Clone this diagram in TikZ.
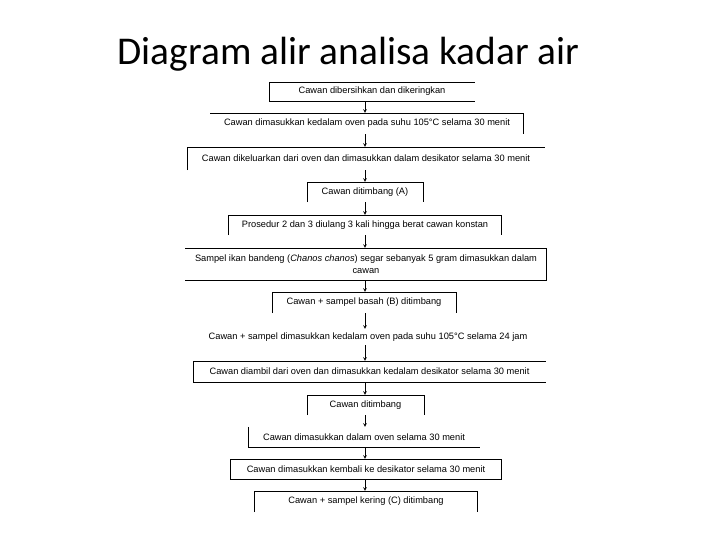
\documentclass[tikz,border=0pt]{standalone}
\usepackage{fontspec}
\setmainfont{Liberation Sans}
\newfontfamily\titlefont{Carlito}
\usetikzlibrary{positioning,arrows}

\begin{document}
\begin{tikzpicture}[x=1bp,y=-1bp,
                langkah/.style={inner sep=0pt,align=center,font=\fontsize{9.3}{12.5}\selectfont},
                garis/.style={line width=0.6pt},
                panah/.style={-stealth,line width=0.6pt},
            ]
                \useasboundingbox (0,0) rectangle (720,540);
                \node[anchor=base,font=\titlefont\fontsize{39.5}{44}\selectfont] (judul) at (348.5,65) {Diagram alir analisa kadar air};
                \coordinate (sumbu) at (365,0);

                \node[langkah,minimum width=206,minimum height=19] (b1) at (372,91.5) {Cawan dibersihkan dan dikeringkan};
                \node[langkah,minimum width=314,minimum height=21] (b2) at (367,123.5) {Cawan dimasukkan kedalam oven pada suhu 105°C selama 30 menit};
                \node[langkah,minimum width=358,minimum height=23] (b3) at (366,158.5) {Cawan dikeluarkan dari oven dan dimasukkan dalam desikator selama 30 menit};
                \node[langkah,minimum width=116,minimum height=20] (b4) at (365,192) {Cawan ditimbang (A)};
                \node[langkah,minimum width=274,minimum height=20] (b5) at (365,225) {Prosedur 2 dan 3 diulang 3 kali hingga berat cawan konstan};
                \node[langkah,minimum width=362,minimum height=32] (b6) at (366,264) {Sampel ikan bandeng (\textit{Chanos chanos}) segar sebanyak 5 gram dimasukkan dalam\\cawan};
                \node[langkah,minimum width=184,minimum height=21] (b7) at (364,302.5) {Cawan + sampel basah (B) ditimbang};
                \node[langkah,minimum width=314,minimum height=16] (b8) at (368,337) {Cawan + sampel dimasukkan kedalam oven pada suhu 105°C selama 24 jam};
                \node[langkah,minimum width=353,minimum height=21] (b9) at (369.5,371.5) {Cawan diambil dari oven dan dimasukkan kedalam desikator selama 30 menit};
                \node[langkah,minimum width=117,minimum height=20] (b10) at (365.5,405) {Cawan ditimbang};
                \node[langkah,minimum width=232,minimum height=20] (b11) at (364,437) {Cawan dimasukkan dalam oven selama 30 menit};
                \node[langkah,minimum width=272,minimum height=20] (b12) at (366,469) {Cawan dimasukkan kembali ke desikator selama 30 menit};
                \node[langkah,minimum width=224,minimum height=21] (b13) at (366,501.5) {Cawan + sampel kering (C) ditimbang};

% sisi kotak yang tampak
                \draw[garis] (b1.north east) -- (b1.north west) -- (b1.south west) -- (b1.south east);
                \draw[garis] (b2.north west) -- (b2.north east) -- (b2.south east);
                \draw[garis] (b3.south west) -- (b3.north west) -- (b3.north east);
                \draw[garis] (b4.south west) -- (b4.north west) -- (b4.north east) -- (b4.south east);
                \draw[garis] (b5.south west) -- (b5.north west) -- (b5.north east) -- (b5.south east);
                \draw[garis] (b6.north west) -- (b6.north east) -- (b6.south east) -- (b6.south west);
                \draw[garis] (b7.south west) -- (b7.north west) -- (b7.north east) -- (b7.south east);
                \draw[garis] (b9.north east) -- (b9.north west) -- (b9.south west) -- (b9.south east);
                \draw[garis] (b10.south west) -- (b10.north west) -- (b10.north east) -- (b10.south east);
                \draw[garis] (b11.north west) -- (b11.south west) -- (b11.south east);
                \draw[garis] (b12.north west) rectangle (b12.south east);
                \draw[garis] (b13.south west) -- (b13.north west) -- (b13.north east) -- (b13.south east);

% panah antar langkah
                \foreach \i/\j in {b1/b2,b2/b3,b3/b4,b4/b5,b5/b6,b6/b7,b7/b8,b8/b9,b9/b10,b10/b11,b11/b12,b12/b13}
                    \draw[panah] (\i.south -| sumbu) -- (\j.north -| sumbu);
            \end{tikzpicture}
\end{document}
